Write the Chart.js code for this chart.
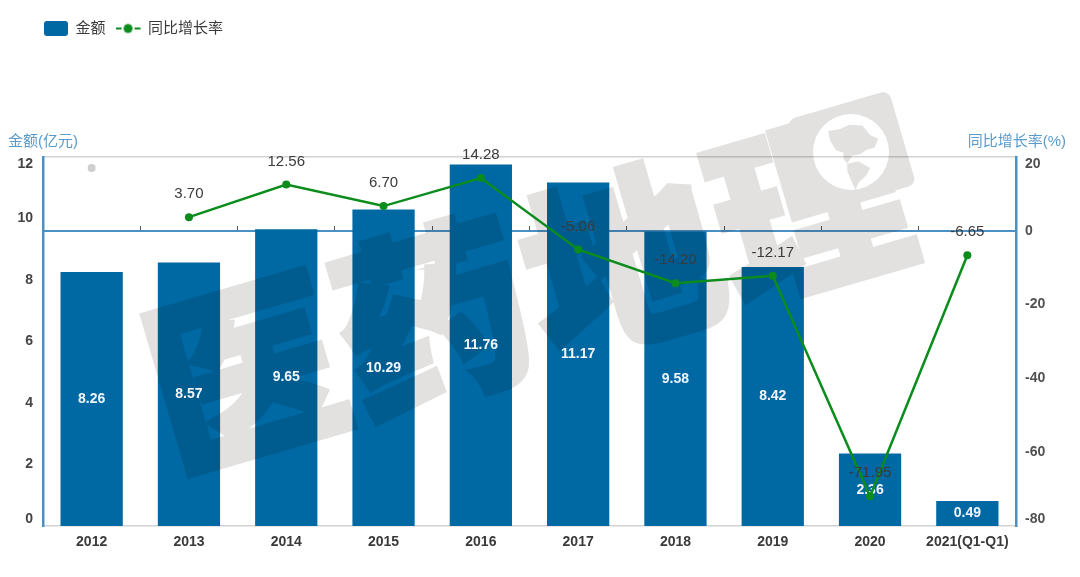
<!DOCTYPE html>
<html><head><meta charset="utf-8">
<style>html,body{margin:0;padding:0;background:#fff}canvas{display:block;filter:blur(0.55px)}</style>
<script src="https://cdn.jsdelivr.net/npm/chart.js@4/dist/chart.umd.js"></script>
</head><body><canvas id="c" width="1080" height="577"></canvas>
<script>
const categories=['2012','2013','2014','2015','2016','2017','2018','2019','2020','2021(Q1-Q1)'];
const amount=[8.26,8.57,9.65,10.29,11.76,11.17,9.58,8.42,2.36,0.49];
const growth=[null,3.70,12.56,6.70,14.28,-5.06,-14.20,-12.17,-71.95,-6.65];
const missingMark=[17,null,null,null,null,null,null,null,null,null];
const seriesNames=['金额','同比增长率'];
const leftTitle='金额(亿元)';
const rightTitle='同比增长率(%)';
const watermarkChars=['医','药','地','理'];

const FONT='"Liberation Sans","Noto Sans CJK SC",sans-serif';
const BAR='#0068a3',GREEN='#0b8c1c',AXIS='#4a90c4',GRID='#d2d2d2',TXT='#3a3a3a';

function barSwatch(){const c=document.createElement('canvas');c.width=24;c.height=15;const x=c.getContext('2d');
  x.fillStyle=BAR;x.beginPath();x.roundRect(0,0,24,15,3);x.fill();return c;}
function lineSwatch(){const c=document.createElement('canvas');c.width=26;c.height=14;const x=c.getContext('2d');
  x.strokeStyle=GREEN;x.lineWidth=2;x.beginPath();x.moveTo(0,7);x.lineTo(6,7);x.moveTo(19,7);x.lineTo(25,7);x.stroke();
  x.fillStyle=GREEN;x.beginPath();x.arc(12.5,7,4.5,0,Math.PI*2);x.fill();return c;}

function buildWatermark(){
  const c=document.createElement('canvas');c.width=1080;c.height=577;const x=c.getContext('2d');
  const gray='#e2e1e0';
  x.save();x.translate(135,312);x.rotate(-16.3*Math.PI/180);
  x.fillStyle=gray;x.strokeStyle=gray;x.lineWidth=5;x.lineJoin='miter';
  x.font='900 190px "Noto Sans CJK SC"';x.textBaseline='alphabetic';
  watermarkChars.forEach((ch,i)=>{x.save();x.translate(i*196-8,160);x.scale(1.02,1);x.fillText(ch,0,0);x.strokeText(ch,0,0);x.restore();});
  x.restore();
  // globe emblem inside the last glyph
  const gx=851,gy=152,r=38;
  x.fillStyle=gray;
  x.save();x.translate(787,120);x.rotate(-16.3*Math.PI/180);x.beginPath();x.roundRect(0,0,106,98,8);x.fill();x.restore();
  x.globalCompositeOperation='destination-out';
  x.beginPath();x.arc(gx,gy,r,0,Math.PI*2);x.fill();
  x.globalCompositeOperation='source-over';
  x.save();x.beginPath();x.arc(gx,gy,r,0,Math.PI*2);x.clip();x.fillStyle=gray;
  const blob=p=>{x.beginPath();p.forEach((q,i)=>{const X=gx+q[0]*r,Y=gy+q[1]*r;i?x.lineTo(X,Y):x.moveTo(X,Y);});x.closePath();x.fill();};
  blob([[-.6,-.55],[-.3,-.6],[-.05,-.72],[.3,-.7],[.5,-.45],[.72,-.35],[.62,-.12],[.4,-.05],[.25,.05],[-.05,.12],[-.2,.02],[-.4,-.05],[-.55,-.3]]);
  blob([[-.1,.3],[.2,.25],[.5,.42],[.42,.6],[.2,.8],[.12,1],[-.02,.7],[-.1,.5]]);
  blob([[-.2,.02],[.02,.12],[-.1,.3],[-.2,.18]]);
  x.restore();
  return c;
}
const watermark=buildWatermark();

const overlay={id:'overlay',
  afterLayout(ch){ch.legend.left=33;},
  afterDatasetDraw(ch,args){
    if(args.index!==0)return;
    const x=ch.ctx;
    x.save();x.globalCompositeOperation='multiply';x.drawImage(watermark,0,0);x.restore();
    x.save();x.font='bold 14px '+FONT;x.fillStyle='#f2f6fa';x.textAlign='center';x.textBaseline='middle';
    ch.getDatasetMeta(0).data.forEach((el,i)=>{x.fillText(amount[i].toFixed(2),el.x,(el.y+el.base)/2);});
    x.restore();
  },
  afterDatasetsDraw(ch){
    const x=ch.ctx;
    x.save();x.font='15px '+FONT;x.fillStyle=TXT;x.textAlign='center';x.textBaseline='middle';
    ch.getDatasetMeta(1).data.forEach((el,i)=>{if(growth[i]!=null)x.fillText(growth[i].toFixed(2),el.x,el.y-23);});
    x.font='15px '+FONT;x.fillStyle='#5a9bcc';x.textBaseline='middle';
    x.textAlign='left';x.fillText(leftTitle,8,142);
    x.textAlign='right';x.fillText(rightTitle,1066,142);
    x.restore();
  }
};

new Chart(document.getElementById('c'),{
  type:'bar',
  data:{labels:categories,datasets:[
    {type:'bar',label:seriesNames[0],data:amount,yAxisID:'y',xAxisID:'x',backgroundColor:BAR,
     categoryPercentage:1,barPercentage:0.64,minBarLength:25,order:3},
    {type:'line',label:seriesNames[1],data:growth,yAxisID:'y1',xAxisID:'x',borderColor:GREEN,backgroundColor:GREEN,
     borderWidth:2.5,pointRadius:4,pointBackgroundColor:GREEN,pointBorderWidth:0,tension:0,spanGaps:false,order:1},
    {type:'line',label:'',data:missingMark,yAxisID:'y1',xAxisID:'x',showLine:false,
     pointRadius:4,pointBackgroundColor:'#cfcfcf',pointBorderWidth:0,order:2}
  ]},
  options:{
    responsive:false,animation:false,devicePixelRatio:1,
    layout:{padding:{top:10,left:0,right:0,bottom:0}},
    font:{family:FONT},
    plugins:{
      tooltip:{enabled:false},
      legend:{position:'top',align:'start',
        labels:{usePointStyle:true,pointStyleWidth:24,padding:11,color:'#3a3a3a',font:{size:15,family:FONT},
          generateLabels:()=>[
            {text:seriesNames[0],pointStyle:barSwatch(),fontColor:'#3a3a3a',lineWidth:0,strokeStyle:'transparent',fillStyle:BAR,datasetIndex:0},
            {text:seriesNames[1],pointStyle:lineSwatch(),fontColor:'#3a3a3a',lineWidth:0,strokeStyle:'transparent',fillStyle:GREEN,datasetIndex:1}
          ]}}
    },
    scales:{
      x:{type:'category',position:'bottom',offset:true,
        grid:{display:true,drawOnChartArea:false,drawTicks:false},
        border:{color:GRID,width:1.5},
        ticks:{autoSkip:false,maxRotation:0,padding:8,color:TXT,font:{size:14,weight:'bold',family:FONT}},
        afterFit(s){s.height=51;}},
      xTop:{type:'category',labels:categories,position:'top',offset:true,
        grid:{display:true,drawOnChartArea:false,drawTicks:false},
        border:{color:GRID,width:1.5},
        ticks:{display:false},
        afterFit(s){s.height=111;}},
      xZero:{type:'category',labels:categories,position:{y1:0},offset:true,z:1,
        grid:{display:true,offset:true,drawOnChartArea:false,drawTicks:true,tickLength:-6,tickWidth:1,tickColor:'#555'},
        border:{color:AXIS,width:2},
        ticks:{display:false}},
      y:{type:'linear',position:'left',min:0,max:12,
        grid:{display:false,drawTicks:false},border:{color:AXIS,width:2.5},
        ticks:{stepSize:2,padding:10,color:'#444',font:{size:14,weight:'bold',family:FONT,lineHeight:1},
          callback:v=>v===12?['',String(v)]:v===0?[String(v),'']:String(v)},
        afterFit(s){s.width=43;}},
      y1:{type:'linear',position:'right',min:-80,max:20,
        grid:{display:false,drawTicks:false},border:{color:AXIS,width:2.5},
        ticks:{stepSize:20,padding:9,color:'#505050',font:{size:14,weight:'bold',family:FONT,lineHeight:1},
          callback:v=>v===20?['',String(v)]:v===-80?[String(v),'']:String(v)},
        afterFit(s){s.width=64;}}
    }
  },
  plugins:[overlay]
});
</script></body></html>
